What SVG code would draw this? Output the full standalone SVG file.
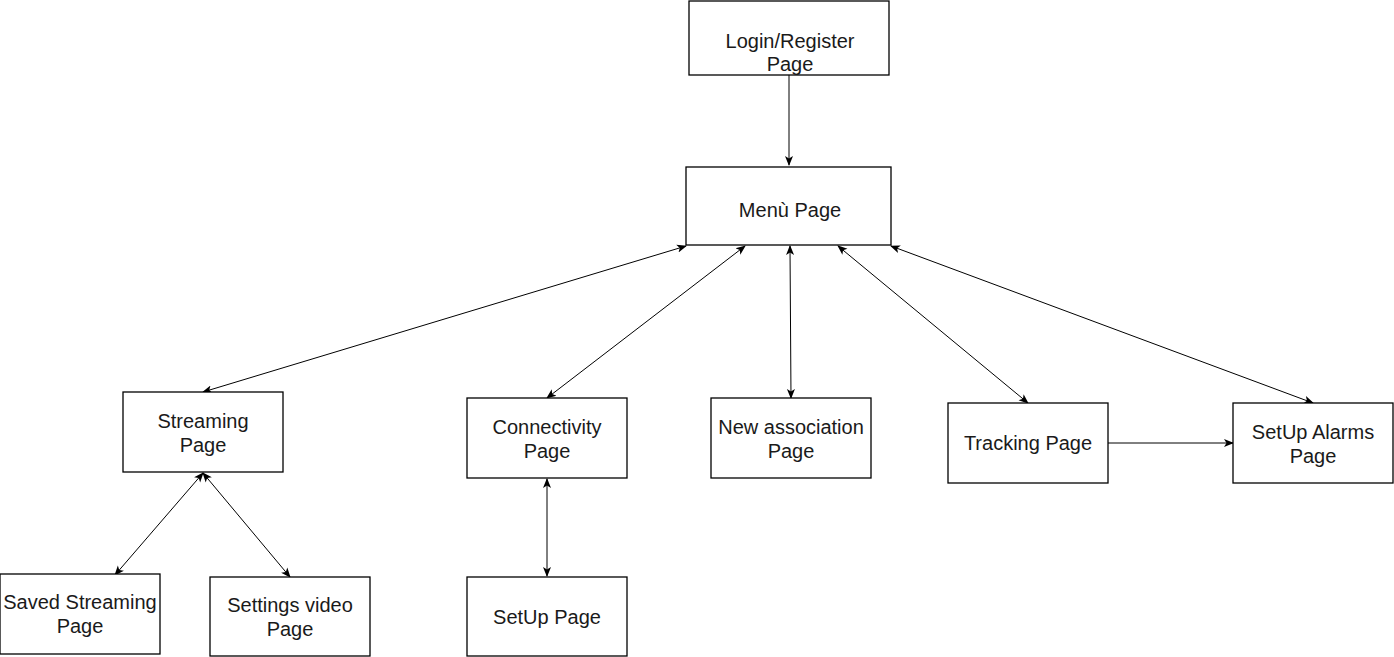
<svg xmlns="http://www.w3.org/2000/svg" width="1394" height="657" viewBox="0 0 1394 657">
  <style>
    .box { fill: #ffffff; stroke: #000000; stroke-width: 1.3; }
    .lbl { font-family: "Liberation Sans", Arial, sans-serif; font-size: 20px; fill: #1a1a1a; text-anchor: middle; }
    .edge { fill: none; stroke: #000000; stroke-width: 1; }
  </style>
  <defs>
    <marker id="arrow" viewBox="0 0 10 10" refX="9" refY="5" markerWidth="10" markerHeight="10" markerUnits="userSpaceOnUse" orient="auto-start-reverse">
      <path d="M0,1 L10,5 L0,9 L2.5,5 Z" fill="#000000"/>
    </marker>
  </defs>

  <rect width="1394" height="657" fill="#ffffff"/>

  <g id="connectors">
    <line class="edge" x1="789" y1="75" x2="789" y2="165" marker-end="url(#arrow)"/>
    <line class="edge" x1="686" y1="246" x2="203" y2="392" marker-start="url(#arrow)" marker-end="url(#arrow)"/>
    <line class="edge" x1="745" y1="246" x2="547" y2="398" marker-start="url(#arrow)" marker-end="url(#arrow)"/>
    <line class="edge" x1="790" y1="246" x2="791" y2="398" marker-start="url(#arrow)" marker-end="url(#arrow)"/>
    <line class="edge" x1="838" y1="246" x2="1028" y2="403" marker-start="url(#arrow)" marker-end="url(#arrow)"/>
    <line class="edge" x1="891" y1="246" x2="1313" y2="403" marker-start="url(#arrow)" marker-end="url(#arrow)"/>
    <line class="edge" x1="203" y1="473" x2="115" y2="575" marker-start="url(#arrow)" marker-end="url(#arrow)"/>
    <line class="edge" x1="203" y1="473" x2="290" y2="577" marker-start="url(#arrow)" marker-end="url(#arrow)"/>
    <line class="edge" x1="547" y1="479" x2="547" y2="576" marker-start="url(#arrow)" marker-end="url(#arrow)"/>
    <line class="edge" x1="1108" y1="443" x2="1233" y2="443" marker-end="url(#arrow)"/>
  </g>

  <g id="login">
    <rect class="box" x="689" y="1" width="200" height="74"/>
    <text class="lbl" x="790" y="48">Login/Register</text>
    <text class="lbl" x="790" y="71">Page</text>
  </g>

  <g id="menu">
    <rect class="box" x="686" y="167" width="205" height="78"/>
    <text class="lbl" x="790" y="217">Menù Page</text>
  </g>

  <g id="streaming">
    <rect class="box" x="123" y="392" width="160" height="80"/>
    <text class="lbl" x="203" y="428">Streaming</text>
    <text class="lbl" x="203" y="452">Page</text>
  </g>

  <g id="connectivity">
    <rect class="box" x="467" y="398" width="160" height="80"/>
    <text class="lbl" x="547" y="434">Connectivity</text>
    <text class="lbl" x="547" y="458">Page</text>
  </g>

  <g id="new-association">
    <rect class="box" x="711" y="398" width="160" height="80"/>
    <text class="lbl" x="791" y="434">New association</text>
    <text class="lbl" x="791" y="458">Page</text>
  </g>

  <g id="tracking">
    <rect class="box" x="948" y="403" width="160" height="80"/>
    <text class="lbl" x="1028" y="450">Tracking Page</text>
  </g>

  <g id="setup-alarms">
    <rect class="box" x="1233" y="403" width="160" height="80"/>
    <text class="lbl" x="1313" y="439">SetUp Alarms</text>
    <text class="lbl" x="1313" y="463">Page</text>
  </g>

  <g id="saved-streaming">
    <rect class="box" x="0" y="574" width="160" height="80"/>
    <text class="lbl" x="80" y="609">Saved Streaming</text>
    <text class="lbl" x="80" y="633">Page</text>
  </g>

  <g id="settings-video">
    <rect class="box" x="210" y="577" width="160" height="79"/>
    <text class="lbl" x="290" y="612">Settings video</text>
    <text class="lbl" x="290" y="636">Page</text>
  </g>

  <g id="setup">
    <rect class="box" x="467" y="577" width="160" height="79"/>
    <text class="lbl" x="547" y="624">SetUp Page</text>
  </g>
</svg>
